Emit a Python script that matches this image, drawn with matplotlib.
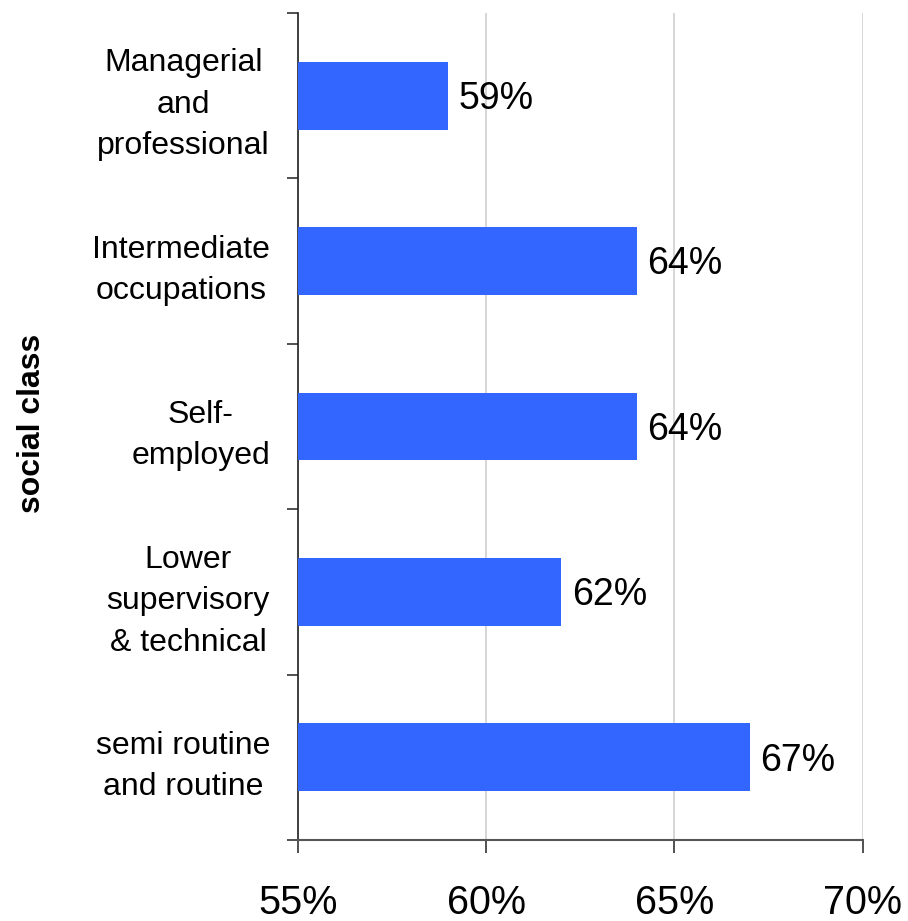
import matplotlib
matplotlib.use("Agg")
import matplotlib.pyplot as plt
import numpy as np

plt.rcParams['font.family'] = ['Liberation Sans', 'DejaVu Sans']

categories = [
    "Managerial\nand\nprofessional",
    "Intermediate\noccupations",
    "Self-\nemployed",
    "Lower\nsupervisory\n& technical",
    "semi routine\nand routine",
]
values = [59, 64, 64, 62, 67]
x_ticks = [55, 60, 65, 70]
x_tick_labels = ["55%", "60%", "65%", "70%"]

fig = plt.figure(figsize=(9.08, 9.21), dpi=100)
ax = fig.add_axes([0.328, 0.088, 0.622, 0.898])

n = len(categories)
y = np.arange(n)
ax.barh(y, [v - 55 for v in values], left=55, height=0.41, color="#3366FF", zorder=3)

for yi, v in zip(y, values):
    ax.text(v + 0.28, yi + 0.02, f"{v}%", va="center", ha="left", fontsize=27, color="black")

ax.set_xlim(55, 70)
ax.set_ylim(n - 0.5, -0.5)

ax.set_xticks(x_ticks)
ax.set_xticklabels(x_tick_labels, fontsize=28.5)
ax.tick_params(axis="x", length=9.5, width=1.2, color="#333333", pad=22)
ax.xaxis.grid(True, color="#d0d0d0", linewidth=1.2, zorder=0)

ax.set_yticks(y)
ax.set_yticklabels(categories, fontsize=23, multialignment="center", linespacing=1.5)
ax.tick_params(axis="y", which="major", length=0, pad=20)
ax.set_yticks(np.arange(n + 1) - 0.5, minor=True)
ax.tick_params(axis="y", which="minor", length=8, width=1.2, color="#333333")

for side in ["top", "right"]:
    ax.spines[side].set_visible(False)
ax.spines["left"].set_color("#222222")
ax.spines["left"].set_linewidth(1.2)
ax.spines["bottom"].set_color("#555555")
ax.spines["bottom"].set_linewidth(1.5)

fig.text(0.035, 0.540, "social class", rotation=90, fontsize=23, fontweight="bold",
         ha="center", va="center")

fig.savefig("out.png", dpi=100)
